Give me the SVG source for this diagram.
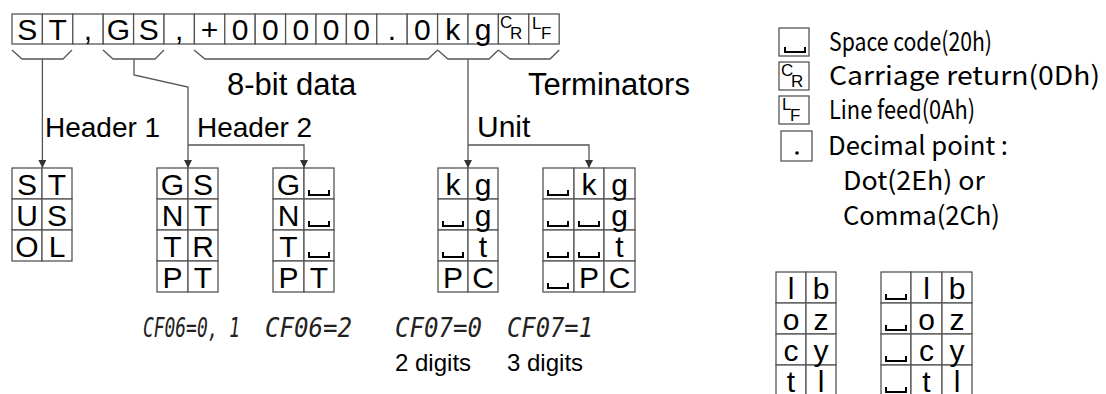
<svg xmlns="http://www.w3.org/2000/svg" xmlns:xlink="http://www.w3.org/1999/xlink" width="1106" height="394" viewBox="0 0 1106 394">
<style>
.cell{fill:#fff;stroke:#555;stroke-width:1.3}
.t{font-family:"Liberation Sans Narrow","Liberation Sans",Arial,sans-serif;font-size:30px;text-anchor:middle;fill:#000}
.sm{font-family:"Liberation Sans",Arial,sans-serif;font-size:17px;fill:#000}
.lbl{font-family:"Liberation Sans",Arial,sans-serif;fill:#000}
.leg{font-family:"Noto Sans CJK JP","Noto Sans",sans-serif;font-size:26px;fill:#000}
.seg{font-family:"DejaVu Sans Mono",monospace;font-style:oblique;font-size:21px;fill:#222}
.conn{fill:none;stroke:#555;stroke-width:1.3}
.sp{fill:none;stroke:#000;stroke-width:2}
</style>
<defs>
<marker id="arr" viewBox="0 0 10 10" refX="10" refY="5" markerWidth="8" markerHeight="8" markerUnits="userSpaceOnUse" orient="auto">
<path d="M0,0 L10,5 L0,10 z" fill="#333"/>
</marker>
<path id="sp" class="sp" d="M0,0 v5 h20 v-5"/>
</defs>
<rect width="1106" height="394" fill="#fff"/>

<g id="data-row">
<rect class="cell" x="12" y="14" width="30.4" height="30"/>
<rect class="cell" x="42.4" y="14" width="30.4" height="30"/>
<rect class="cell" x="72.8" y="14" width="30.4" height="30"/>
<rect class="cell" x="103.2" y="14" width="30.4" height="30"/>
<rect class="cell" x="133.6" y="14" width="30.4" height="30"/>
<rect class="cell" x="164" y="14" width="30.4" height="30"/>
<rect class="cell" x="194.4" y="14" width="30.4" height="30"/>
<rect class="cell" x="224.8" y="14" width="30.4" height="30"/>
<rect class="cell" x="255.2" y="14" width="30.4" height="30"/>
<rect class="cell" x="285.6" y="14" width="30.4" height="30"/>
<rect class="cell" x="316" y="14" width="30.4" height="30"/>
<rect class="cell" x="346.4" y="14" width="30.4" height="30"/>
<rect class="cell" x="376.8" y="14" width="30.4" height="30"/>
<rect class="cell" x="407.2" y="14" width="30.4" height="30"/>
<rect class="cell" x="437.6" y="14" width="30.4" height="30"/>
<rect class="cell" x="468" y="14" width="30.4" height="30"/>
<rect class="cell" x="498.4" y="14" width="30.4" height="30"/>
<rect class="cell" x="528.8" y="14" width="30.4" height="30"/>
<text class="t" x="27.2" y="40">S</text>
<text class="t" x="57.6" y="40">T</text>
<text class="t" x="88" y="40">,</text>
<text class="t" x="118.4" y="40">G</text>
<text class="t" x="148.8" y="40">S</text>
<text class="t" x="179.2" y="40">,</text>
<text class="t" x="209.6" y="40">+</text>
<text class="t" x="240" y="40">0</text>
<text class="t" x="270.4" y="40">0</text>
<text class="t" x="300.8" y="40">0</text>
<text class="t" x="331.2" y="40">0</text>
<text class="t" x="361.6" y="40">0</text>
<text class="t" x="392" y="40">.</text>
<text class="t" x="422.4" y="40">0</text>
<text class="t" x="452.8" y="40">k</text>
<text class="t" x="483.2" y="40">g</text>
<text class="sm" x="500" y="28">C</text>
<text class="sm" x="510" y="39">R</text>
<text class="sm" x="532" y="29">L</text>
<text class="sm" x="541" y="39">F</text>
</g>

<g id="labels">
<text class="lbl" x="227" y="95" font-size="31">8-bit data</text>
<text class="lbl" x="528" y="95" font-size="31">Terminators</text>
<text class="lbl" x="45" y="137" font-size="28">Header 1</text>
<text class="lbl" x="197" y="137" font-size="28">Header 2</text>
<text class="lbl" x="477" y="137" font-size="30">Unit</text>
</g>

<g id="connectors">
<polyline class="conn" points="12,50 22,59 63,59 72,50"/>
<polyline class="conn" points="103,50 113,59 155,59 164,50"/>
<polyline class="conn" points="194,50 205,59 428,59 437.6,50"/>
<polyline class="conn" points="437.6,50 448,59 489,59 498.4,50"/>
<polyline class="conn" points="498.4,50 510,59 550,59 559.2,50"/>
<polyline class="conn" points="42.4,59 42.4,168" marker-end="url(#arr)"/>
<polyline class="conn" points="134,59 134,75 188,87 188,168" marker-end="url(#arr)"/>
<polyline class="conn" points="188,145 304,145 304,168" marker-end="url(#arr)"/>
<polyline class="conn" points="468,59 468,168" marker-end="url(#arr)"/>
<polyline class="conn" points="468,145 589,145 589,168" marker-end="url(#arr)"/>
</g>

<g id="header1-table">
<rect class="cell" x="12" y="168" width="30" height="31"/><rect class="cell" x="42" y="168" width="30" height="31"/>
<rect class="cell" x="12" y="199" width="30" height="31"/><rect class="cell" x="42" y="199" width="30" height="31"/>
<rect class="cell" x="12" y="230" width="30" height="31"/><rect class="cell" x="42" y="230" width="30" height="31"/>
<text class="t" x="27" y="195">S</text><text class="t" x="57" y="195">T</text>
<text class="t" x="27" y="226">U</text><text class="t" x="57" y="226">S</text>
<text class="t" x="27" y="257">O</text><text class="t" x="57" y="257">L</text>
</g>

<g id="header2-table-a">
<rect class="cell" x="157" y="168" width="31" height="31"/><rect class="cell" x="188" y="168" width="30" height="31"/>
<rect class="cell" x="157" y="199" width="31" height="31"/><rect class="cell" x="188" y="199" width="30" height="31"/>
<rect class="cell" x="157" y="230" width="31" height="31"/><rect class="cell" x="188" y="230" width="30" height="31"/>
<rect class="cell" x="157" y="261" width="31" height="31"/><rect class="cell" x="188" y="261" width="30" height="31"/>
<text class="t" x="172.5" y="195">G</text><text class="t" x="203" y="195">S</text>
<text class="t" x="172.5" y="226">N</text><text class="t" x="203" y="226">T</text>
<text class="t" x="172.5" y="257">T</text><text class="t" x="203" y="257">R</text>
<text class="t" x="172.5" y="288">P</text><text class="t" x="203" y="288">T</text>
</g>

<g id="header2-table-b">
<rect class="cell" x="273" y="168" width="31" height="31"/><rect class="cell" x="304" y="168" width="30" height="31"/>
<rect class="cell" x="273" y="199" width="31" height="31"/><rect class="cell" x="304" y="199" width="30" height="31"/>
<rect class="cell" x="273" y="230" width="31" height="31"/><rect class="cell" x="304" y="230" width="30" height="31"/>
<rect class="cell" x="273" y="261" width="31" height="31"/><rect class="cell" x="304" y="261" width="30" height="31"/>
<text class="t" x="288.5" y="195">G</text><use href="#sp" x="309" y="190"/>
<text class="t" x="288.5" y="226">N</text><use href="#sp" x="309" y="221"/>
<text class="t" x="288.5" y="257">T</text><use href="#sp" x="309" y="252"/>
<text class="t" x="288.5" y="288">P</text><text class="t" x="319" y="288">T</text>
</g>

<g id="unit-table-2digits">
<rect class="cell" x="438" y="168" width="30" height="31"/><rect class="cell" x="468" y="168" width="30" height="31"/>
<rect class="cell" x="438" y="199" width="30" height="31"/><rect class="cell" x="468" y="199" width="30" height="31"/>
<rect class="cell" x="438" y="230" width="30" height="31"/><rect class="cell" x="468" y="230" width="30" height="31"/>
<rect class="cell" x="438" y="261" width="30" height="31"/><rect class="cell" x="468" y="261" width="30" height="31"/>
<text class="t" x="453" y="195">k</text><text class="t" x="483" y="195">g</text>
<use href="#sp" x="443" y="221"/><text class="t" x="483" y="226">g</text>
<use href="#sp" x="443" y="252"/><text class="t" x="483" y="257">t</text>
<text class="t" x="453" y="288">P</text><text class="t" x="483" y="288">C</text>
</g>

<g id="unit-table-3digits">
<rect class="cell" x="543" y="168" width="31" height="31"/><rect class="cell" x="574" y="168" width="30" height="31"/><rect class="cell" x="604" y="168" width="31" height="31"/>
<rect class="cell" x="543" y="199" width="31" height="31"/><rect class="cell" x="574" y="199" width="30" height="31"/><rect class="cell" x="604" y="199" width="31" height="31"/>
<rect class="cell" x="543" y="230" width="31" height="31"/><rect class="cell" x="574" y="230" width="30" height="31"/><rect class="cell" x="604" y="230" width="31" height="31"/>
<rect class="cell" x="543" y="261" width="31" height="31"/><rect class="cell" x="574" y="261" width="30" height="31"/><rect class="cell" x="604" y="261" width="31" height="31"/>
<use href="#sp" x="548" y="190"/><text class="t" x="589" y="195">k</text><text class="t" x="619.5" y="195">g</text>
<use href="#sp" x="548" y="221"/><use href="#sp" x="579" y="221"/><text class="t" x="619.5" y="226">g</text>
<use href="#sp" x="548" y="252"/><use href="#sp" x="579" y="252"/><text class="t" x="619.5" y="257">t</text>
<use href="#sp" x="548" y="283"/><text class="t" x="589" y="288">P</text><text class="t" x="619.5" y="288">C</text>
</g>

<g id="captions">
<text class="seg" transform="translate(143,337) scale(1,1.3)" textLength="97" lengthAdjust="spacingAndGlyphs">CF06=0, 1</text>
<text class="seg" transform="translate(265,337) scale(1,1.3)" textLength="87" lengthAdjust="spacingAndGlyphs">CF06=2</text>
<text class="seg" transform="translate(395,337) scale(1,1.3)" textLength="87" lengthAdjust="spacingAndGlyphs">CF07=0</text>
<text class="seg" transform="translate(507,337) scale(1,1.3)" textLength="86" lengthAdjust="spacingAndGlyphs">CF07=1</text>
<text class="lbl" x="395" y="371" font-size="24">2 digits</text>
<text class="lbl" x="507" y="371" font-size="24">3 digits</text>
</g>

<g id="legend">
<rect class="cell" x="779" y="28" width="30" height="28"/>
<use href="#sp" x="785" y="47"/>
<text class="leg" x="829" y="51" textLength="163" lengthAdjust="spacingAndGlyphs">Space code(20h)</text>
<rect class="cell" x="779" y="62" width="30" height="28"/>
<text class="sm" x="781" y="76" font-size="15">C</text><text class="sm" x="791" y="87" font-size="15">R</text>
<text class="leg" x="829" y="85" textLength="271" lengthAdjust="spacingAndGlyphs">Carriage return(0Dh)</text>
<rect class="cell" x="779" y="96" width="30" height="28"/>
<text class="sm" x="782" y="110" font-size="15">L</text><text class="sm" x="790" y="121" font-size="15">F</text>
<text class="leg" x="829" y="119" textLength="146" lengthAdjust="spacingAndGlyphs">Line feed(0Ah)</text>
<rect class="cell" x="781" y="131" width="31" height="30"/>
<circle cx="797" cy="153" r="1.8" fill="#000"/>
<text class="leg" x="828" y="155" textLength="180" lengthAdjust="spacingAndGlyphs">Decimal point :</text>
<text class="leg" x="843" y="190" textLength="142" lengthAdjust="spacingAndGlyphs">Dot(2Eh) or</text>
<text class="leg" x="843" y="225" textLength="157" lengthAdjust="spacingAndGlyphs">Comma(2Ch)</text>
</g>

<g id="unit-table-extra-2">
<rect class="cell" x="776" y="272" width="30" height="31"/><rect class="cell" x="806" y="272" width="30" height="31"/>
<rect class="cell" x="776" y="303" width="30" height="31"/><rect class="cell" x="806" y="303" width="30" height="31"/>
<rect class="cell" x="776" y="334" width="30" height="31"/><rect class="cell" x="806" y="334" width="30" height="31"/>
<rect class="cell" x="776" y="365" width="30" height="31"/><rect class="cell" x="806" y="365" width="30" height="31"/>
<text class="t" x="791" y="299">l</text><text class="t" x="821" y="299">b</text>
<text class="t" x="791" y="330">o</text><text class="t" x="821" y="330">z</text>
<text class="t" x="791" y="361">c</text><text class="t" x="821" y="361">y</text>
<text class="t" x="791" y="392">t</text><text class="t" x="821" y="392">l</text>
</g>

<g id="unit-table-extra-3">
<rect class="cell" x="881" y="272" width="30" height="31"/><rect class="cell" x="911" y="272" width="31" height="31"/><rect class="cell" x="942" y="272" width="30" height="31"/>
<rect class="cell" x="881" y="303" width="30" height="31"/><rect class="cell" x="911" y="303" width="31" height="31"/><rect class="cell" x="942" y="303" width="30" height="31"/>
<rect class="cell" x="881" y="334" width="30" height="31"/><rect class="cell" x="911" y="334" width="31" height="31"/><rect class="cell" x="942" y="334" width="30" height="31"/>
<rect class="cell" x="881" y="365" width="30" height="31"/><rect class="cell" x="911" y="365" width="31" height="31"/><rect class="cell" x="942" y="365" width="30" height="31"/>
<use href="#sp" x="886" y="294"/><text class="t" x="926.5" y="299">l</text><text class="t" x="957" y="299">b</text>
<use href="#sp" x="886" y="325"/><text class="t" x="926.5" y="330">o</text><text class="t" x="957" y="330">z</text>
<use href="#sp" x="886" y="356"/><text class="t" x="926.5" y="361">c</text><text class="t" x="957" y="361">y</text>
<use href="#sp" x="886" y="387"/><text class="t" x="926.5" y="392">t</text><text class="t" x="957" y="392">l</text>
</g>
</svg>
